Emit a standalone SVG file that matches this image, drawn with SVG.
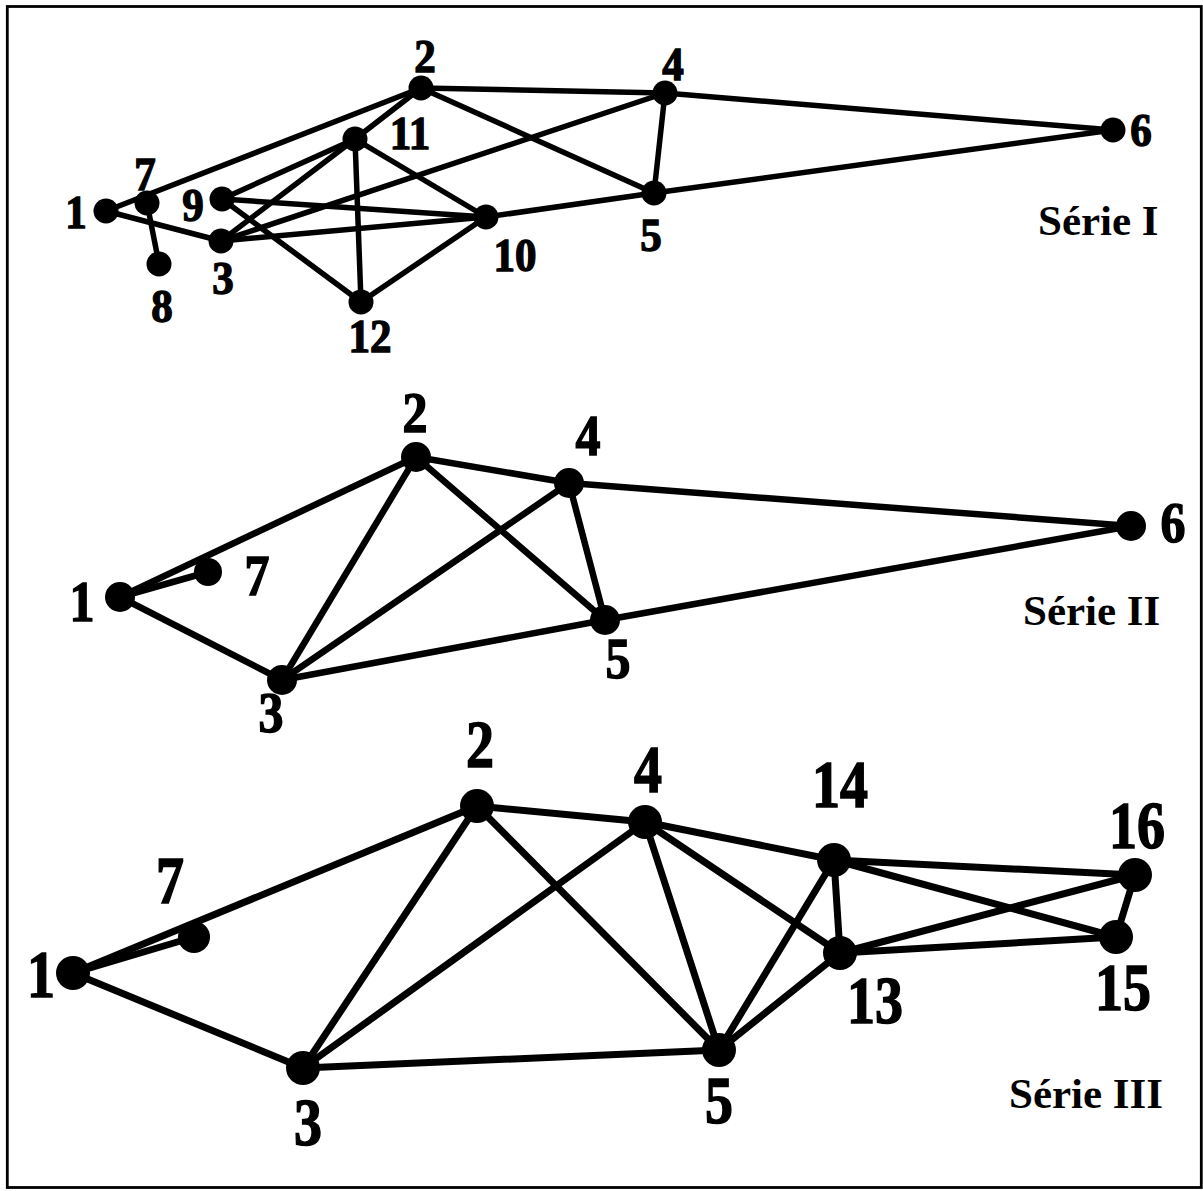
<svg xmlns="http://www.w3.org/2000/svg" width="1203" height="1191" viewBox="0 0 1203 1191">
<style>
.bg{fill:#fff}
.frame{fill:none;stroke:#000;stroke-width:2.8}
.e1{stroke:#000;stroke-width:5.5;stroke-linecap:round}
.e2{stroke:#000;stroke-width:6.5;stroke-linecap:round}
.e3{stroke:#000;stroke-width:7;stroke-linecap:round}
.n{fill:#000}
.lb{font-family:"Liberation Serif","Times New Roman",serif;font-weight:bold;fill:#000;stroke:#000;stroke-width:1.3;text-anchor:middle}
.l1{font-size:43px}
.l2{font-size:50px}
.l3{font-size:56px}
.ser{font-family:"Liberation Serif","Times New Roman",serif;font-weight:bold;font-size:43px;fill:#000}
</style>
<rect class="bg" x="0" y="0" width="1203" height="1191"/>
<rect class="frame" x="7.3" y="6.5" width="1194" height="1181"/>

<g id="connectors">
  <!-- Série I -->
  <g class="e1">
    <line x1="106" y1="211" x2="421" y2="88"/>
    <line x1="106" y1="211" x2="221" y2="241"/>
    <line x1="147" y1="203" x2="159" y2="264"/>
    <line x1="222" y1="199" x2="355" y2="139"/>
    <line x1="222" y1="199" x2="486" y2="217"/>
    <line x1="222" y1="199" x2="361" y2="302"/>
    <line x1="221" y1="241" x2="355" y2="139"/>
    <line x1="221" y1="241" x2="665" y2="93"/>
    <line x1="221" y1="241" x2="486" y2="217"/>
    <line x1="355" y1="139" x2="421" y2="88"/>
    <line x1="355" y1="139" x2="361" y2="302"/>
    <line x1="355" y1="139" x2="486" y2="217"/>
    <line x1="361" y1="302" x2="486" y2="217"/>
    <line x1="421" y1="88" x2="665" y2="93"/>
    <line x1="421" y1="88" x2="654" y2="193"/>
    <line x1="665" y1="93" x2="654" y2="193"/>
    <line x1="665" y1="93" x2="1113" y2="130"/>
    <line x1="486" y1="217" x2="654" y2="193"/>
    <line x1="654" y1="193" x2="1113" y2="130"/>
  </g>
  <!-- Série II -->
  <g class="e2">
    <line x1="120" y1="597" x2="416" y2="457"/>
    <line x1="120" y1="597" x2="208" y2="572"/>
    <line x1="120" y1="597" x2="282" y2="680"/>
    <line x1="416" y1="457" x2="569" y2="483"/>
    <line x1="416" y1="457" x2="282" y2="680"/>
    <line x1="416" y1="457" x2="605" y2="620"/>
    <line x1="569" y1="483" x2="282" y2="680"/>
    <line x1="569" y1="483" x2="605" y2="620"/>
    <line x1="569" y1="483" x2="1131" y2="526"/>
    <line x1="282" y1="680" x2="605" y2="620"/>
    <line x1="605" y1="620" x2="1131" y2="526"/>
  </g>
  <!-- Série III -->
  <g class="e3">
    <line x1="73" y1="973" x2="477" y2="806"/>
    <line x1="73" y1="973" x2="194" y2="937"/>
    <line x1="73" y1="973" x2="303" y2="1068"/>
    <line x1="477" y1="806" x2="645" y2="822"/>
    <line x1="477" y1="806" x2="303" y2="1068"/>
    <line x1="477" y1="806" x2="719" y2="1050"/>
    <line x1="645" y1="822" x2="303" y2="1068"/>
    <line x1="645" y1="822" x2="719" y2="1050"/>
    <line x1="645" y1="822" x2="834" y2="860"/>
    <line x1="645" y1="822" x2="840" y2="953"/>
    <line x1="303" y1="1068" x2="719" y2="1050"/>
    <line x1="719" y1="1050" x2="834" y2="860"/>
    <line x1="719" y1="1050" x2="840" y2="953"/>
    <line x1="834" y1="860" x2="840" y2="953"/>
    <line x1="834" y1="860" x2="1135" y2="875"/>
    <line x1="834" y1="860" x2="1116" y2="937"/>
    <line x1="840" y1="953" x2="1135" y2="875"/>
    <line x1="840" y1="953" x2="1116" y2="937"/>
    <line x1="1135" y1="875" x2="1116" y2="937"/>
  </g>
</g>

<!-- Série I nodes -->
<g id="s1-n1"><circle class="n" cx="106" cy="211" r="12.5"/><text class="lb l1" transform="translate(76 228) scale(1 1.1)">1</text></g>
<g id="s1-n7"><circle class="n" cx="147" cy="203" r="12.5"/><text class="lb l1" transform="translate(145 190) scale(1 1.1)">7</text></g>
<g id="s1-n8"><circle class="n" cx="159" cy="264" r="12.5"/><text class="lb l1" transform="translate(162 322) scale(1 1.1)">8</text></g>
<g id="s1-n9"><circle class="n" cx="222" cy="199" r="12.5"/><text class="lb l1" transform="translate(193 221) scale(1 1.1)">9</text></g>
<g id="s1-n3"><circle class="n" cx="221" cy="241" r="12.5"/><text class="lb l1" transform="translate(223 294) scale(1 1.1)">3</text></g>
<g id="s1-n11"><circle class="n" cx="355" cy="139" r="12.5"/><text class="lb l1" transform="translate(410 149) scale(1 1.1)">11</text></g>
<g id="s1-n2"><circle class="n" cx="421" cy="88" r="12.5"/><text class="lb l1" transform="translate(425 72) scale(1 1.1)">2</text></g>
<g id="s1-n10"><circle class="n" cx="486" cy="217" r="12.5"/><text class="lb l1" transform="translate(515 271) scale(1 1.1)">10</text></g>
<g id="s1-n12"><circle class="n" cx="361" cy="302" r="12.5"/><text class="lb l1" transform="translate(370 352) scale(1 1.1)">12</text></g>
<g id="s1-n4"><circle class="n" cx="665" cy="93" r="12.5"/><text class="lb l1" transform="translate(673 80) scale(1 1.1)">4</text></g>
<g id="s1-n5"><circle class="n" cx="654" cy="193" r="12.5"/><text class="lb l1" transform="translate(651 251) scale(1 1.1)">5</text></g>
<g id="s1-n6"><circle class="n" cx="1113" cy="130" r="12.5"/><text class="lb l1" transform="translate(1141 146) scale(1 1.1)">6</text></g>
<text id="s1-title" class="ser" x="1038" y="235">Série I</text>

<!-- Série II nodes -->
<g id="s2-n1"><circle class="n" cx="120" cy="597" r="15"/><text class="lb l2" transform="translate(82 621) scale(1 1.12)">1</text></g>
<g id="s2-n7"><circle class="n" cx="208" cy="572" r="14"/><text class="lb l2" transform="translate(257 595) scale(1 1.12)">7</text></g>
<g id="s2-n2"><circle class="n" cx="416" cy="457" r="15"/><text class="lb l2" transform="translate(415 432) scale(1 1.12)">2</text></g>
<g id="s2-n4"><circle class="n" cx="569" cy="483" r="15"/><text class="lb l2" transform="translate(588 455) scale(1 1.12)">4</text></g>
<g id="s2-n5"><circle class="n" cx="605" cy="620" r="15"/><text class="lb l2" transform="translate(618 678) scale(1 1.12)">5</text></g>
<g id="s2-n3"><circle class="n" cx="282" cy="680" r="15"/><text class="lb l2" transform="translate(271 732) scale(1 1.12)">3</text></g>
<g id="s2-n6"><circle class="n" cx="1131" cy="526" r="15"/><text class="lb l2" transform="translate(1173 542) scale(1 1.12)">6</text></g>
<text id="s2-title" class="ser" x="1023" y="625">Série II</text>

<!-- Série III nodes -->
<g id="s3-n1"><circle class="n" cx="73" cy="973" r="17"/><text class="lb l3" transform="translate(41 997) scale(1 1.2)">1</text></g>
<g id="s3-n7"><circle class="n" cx="194" cy="937" r="16"/><text class="lb l3" transform="translate(170 903) scale(1 1.2)">7</text></g>
<g id="s3-n2"><circle class="n" cx="477" cy="806" r="17"/><text class="lb l3" transform="translate(480 767) scale(1 1.2)">2</text></g>
<g id="s3-n4"><circle class="n" cx="645" cy="822" r="17"/><text class="lb l3" transform="translate(648 792) scale(1 1.2)">4</text></g>
<g id="s3-n3"><circle class="n" cx="303" cy="1068" r="17"/><text class="lb l3" transform="translate(308 1145) scale(1 1.2)">3</text></g>
<g id="s3-n5"><circle class="n" cx="719" cy="1050" r="17"/><text class="lb l3" transform="translate(719 1123) scale(1 1.2)">5</text></g>
<g id="s3-n14"><circle class="n" cx="834" cy="860" r="17"/><text class="lb l3" transform="translate(840 807) scale(1 1.2)">14</text></g>
<g id="s3-n13"><circle class="n" cx="840" cy="953" r="17"/><text class="lb l3" transform="translate(875 1023) scale(1 1.2)">13</text></g>
<g id="s3-n16"><circle class="n" cx="1135" cy="875" r="17"/><text class="lb l3" transform="translate(1137 848) scale(1 1.2)">16</text></g>
<g id="s3-n15"><circle class="n" cx="1116" cy="937" r="17"/><text class="lb l3" transform="translate(1123 1010) scale(1 1.2)">15</text></g>
<text id="s3-title" class="ser" x="1009" y="1108">Série III</text>
</svg>
